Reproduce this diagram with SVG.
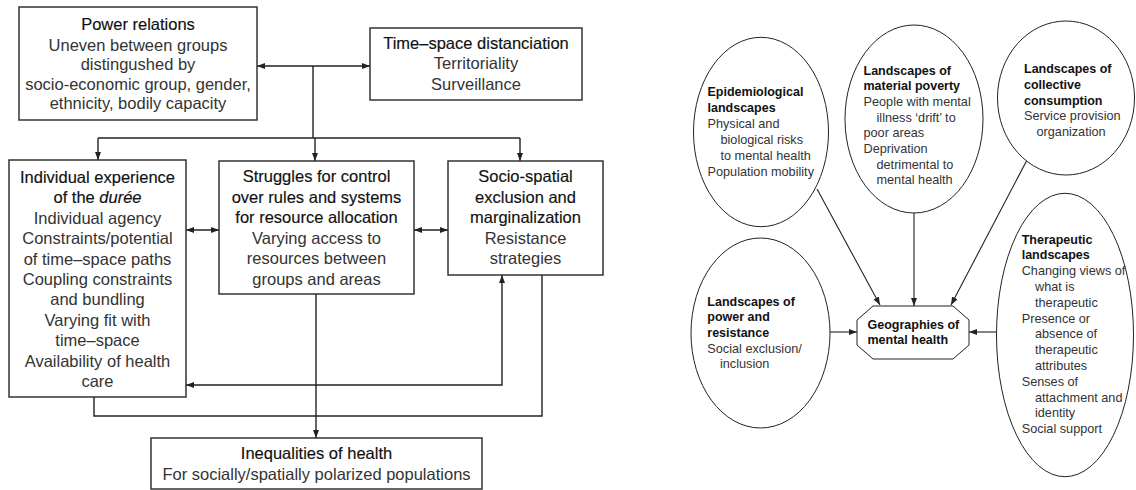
<svg xmlns="http://www.w3.org/2000/svg" width="1136" height="490" viewBox="0 0 1136 490">
<style>
.box{fill:#fff;stroke:#333;stroke-width:1.5}
.ell{fill:#fff;stroke:#222;stroke-width:1}
.ln{fill:none;stroke:#222;stroke-width:1.4}
.rl{fill:none;stroke:#222;stroke-width:1.1}
.lt{font-family:"Liberation Sans",Arial,sans-serif;font-size:16.5px;fill:#111;stroke:#111;stroke-width:0.15;text-anchor:middle}
.lb{font-family:"Liberation Sans",Arial,sans-serif;font-size:16.5px;fill:#333;text-anchor:middle}
.rt{font-family:"Liberation Sans",Arial,sans-serif;font-size:12.5px;font-weight:bold;fill:#111}
.rb{font-family:"Liberation Sans",Arial,sans-serif;font-size:12.7px;fill:#333}
</style>
<defs>
<marker id="ah" markerUnits="userSpaceOnUse" markerWidth="9" markerHeight="7" refX="8" refY="3" orient="auto-start-reverse">
<path d="M0,0 L8,3 L0,6 z" fill="#222"/>
</marker>
</defs>
<rect width="1136" height="490" fill="#fff"/>

<g id="connectors">
<path class="ln" d="M257,66 H370" marker-start="url(#ah)" marker-end="url(#ah)"/>
<path class="ln" d="M313,66 V138"/>
<path class="ln" d="M98,138 H520"/>
<path class="ln" d="M98,138 V160" marker-end="url(#ah)"/>
<path class="ln" d="M315,138 V161" marker-end="url(#ah)"/>
<path class="ln" d="M520,138 V161" marker-end="url(#ah)"/>
<path class="ln" d="M186,230 H219" marker-start="url(#ah)" marker-end="url(#ah)"/>
<path class="ln" d="M414,230 H448" marker-start="url(#ah)" marker-end="url(#ah)"/>
<path class="ln" d="M186,385 H502 V275" marker-start="url(#ah)" marker-end="url(#ah)"/>
<path class="ln" d="M94,397 V416 H542 V275"/>
<path class="ln" d="M316,294 V438" marker-end="url(#ah)"/>

<path class="rl" d="M817,189 L880,305" marker-end="url(#ah)"/>
<path class="rl" d="M914,213 V306" marker-end="url(#ah)"/>
<path class="rl" d="M1027,160 L951,305" marker-end="url(#ah)"/>
<path class="rl" d="M830,332 H857" marker-end="url(#ah)"/>
<path class="rl" d="M997,332 H969" marker-end="url(#ah)"/>
</g>

<g id="power-relations">
<rect class="box" x="19" y="7" width="238" height="113"/>
<text class="lt" x="138" y="30">Power relations</text>
<text class="lb" x="138" y="51">Uneven between groups</text>
<text class="lb" x="138" y="70">distingushed by</text>
<text class="lb" x="138" y="90">socio-economic group, gender,</text>
<text class="lb" x="138" y="109">ethnicity, bodily capacity</text>
</g>

<g id="time-space">
<rect class="box" x="370" y="28" width="212" height="72"/>
<text class="lt" x="476" y="49">Time–space distanciation</text>
<text class="lb" x="476" y="69">Territoriality</text>
<text class="lb" x="476" y="90">Surveillance</text>
</g>

<g id="individual">
<rect class="box" x="9" y="160" width="177" height="237"/>
<text class="lt" x="97.5" y="183">Individual experience</text>
<text class="lt" x="97.5" y="203.4">of the <tspan font-style="italic">durée</tspan></text>
<text class="lb" x="97.5" y="223.8">Individual agency</text>
<text class="lb" x="97.5" y="244.2">Constraints/potential</text>
<text class="lb" x="97.5" y="264.6">of time–space paths</text>
<text class="lb" x="97.5" y="285">Coupling constraints</text>
<text class="lb" x="97.5" y="305.4">and bundling</text>
<text class="lb" x="97.5" y="325.8">Varying fit with</text>
<text class="lb" x="97.5" y="346.2">time–space</text>
<text class="lb" x="97.5" y="366.6">Availability of health</text>
<text class="lb" x="97.5" y="387">care</text>
</g>

<g id="struggles">
<rect class="box" x="219" y="161" width="195" height="133"/>
<text class="lt" x="316.5" y="182">Struggles for control</text>
<text class="lt" x="316.5" y="202.6">over rules and systems</text>
<text class="lt" x="316.5" y="223.2">for resource allocation</text>
<text class="lb" x="316.5" y="243.8">Varying access to</text>
<text class="lb" x="316.5" y="264.4">resources between</text>
<text class="lb" x="316.5" y="285">groups and areas</text>
</g>

<g id="socio-spatial">
<rect class="box" x="448" y="161" width="155" height="114"/>
<text class="lt" x="525.5" y="182">Socio-spatial</text>
<text class="lt" x="525.5" y="202.6">exclusion and</text>
<text class="lt" x="525.5" y="223.2">marginalization</text>
<text class="lb" x="525.5" y="243.8">Resistance</text>
<text class="lb" x="525.5" y="264.4">strategies</text>
</g>

<g id="inequalities">
<rect class="box" x="151" y="438" width="331" height="51"/>
<text class="lt" x="316.5" y="459">Inequalities of health</text>
<text class="lb" x="316.5" y="480">For socially/spatially polarized populations</text>
</g>

<g id="epidemiological">
<ellipse class="ell" cx="761" cy="132" rx="67.5" ry="94.7"/>
<text class="rt" x="707.5" y="96">Epidemiological</text>
<text class="rt" x="707.5" y="112">landscapes</text>
<text class="rb" x="707.5" y="128">Physical and</text>
<text class="rb" x="720.5" y="144">biological risks</text>
<text class="rb" x="720.5" y="160">to mental health</text>
<text class="rb" x="707.5" y="176">Population mobility</text>
</g>

<g id="material-poverty">
<ellipse class="ell" cx="914" cy="119" rx="69" ry="94"/>
<text class="rt" x="863.5" y="74.5">Landscapes of</text>
<text class="rt" x="863.5" y="90.2">material poverty</text>
<text class="rb" x="863.5" y="105.9">People with mental</text>
<text class="rb" x="876.5" y="121.6">illness ‘drift’ to</text>
<text class="rb" x="863.5" y="137.3">poor areas</text>
<text class="rb" x="863.5" y="153">Deprivation</text>
<text class="rb" x="876.5" y="168.7">detrimental to</text>
<text class="rb" x="876.5" y="184.4">mental health</text>
</g>

<g id="collective-consumption">
<ellipse class="ell" cx="1066" cy="98" rx="68.5" ry="77"/>
<text class="rt" x="1024" y="73">Landscapes of</text>
<text class="rt" x="1024" y="88.8">collective</text>
<text class="rt" x="1024" y="104.6">consumption</text>
<text class="rb" x="1024" y="120.4">Service provision</text>
<text class="rb" x="1036.5" y="136.2">organization</text>
</g>

<g id="power-resistance">
<ellipse class="ell" cx="760.5" cy="333" rx="69.5" ry="95"/>
<text class="rt" x="707.3" y="305.5">Landscapes of</text>
<text class="rt" x="707.3" y="321.2">power and</text>
<text class="rt" x="707.3" y="336.9">resistance</text>
<text class="rb" x="707.3" y="352.6">Social exclusion/</text>
<text class="rb" x="720" y="368.3">inclusion</text>
</g>

<g id="therapeutic">
<ellipse class="ell" cx="1065" cy="335" rx="68.5" ry="141.7"/>
<text class="rt" x="1021.7" y="243.5">Therapeutic</text>
<text class="rt" x="1021.7" y="259.3">landscapes</text>
<text class="rb" x="1021.7" y="275.1">Changing views of</text>
<text class="rb" x="1035" y="290.9">what is</text>
<text class="rb" x="1035" y="306.7">therapeutic</text>
<text class="rb" x="1021.7" y="322.5">Presence or</text>
<text class="rb" x="1035" y="338.3">absence of</text>
<text class="rb" x="1035" y="354.1">therapeutic</text>
<text class="rb" x="1035" y="369.9">attributes</text>
<text class="rb" x="1021.7" y="385.7">Senses of</text>
<text class="rb" x="1035" y="401.5">attachment and</text>
<text class="rb" x="1035" y="417.3">identity</text>
<text class="rb" x="1021.7" y="433.1">Social support</text>
</g>

<g id="geographies">
<polygon class="ell" points="873,306 953,306 969,320 969,345 953,359 873,359 857,345 857,320"/>
<text class="rt" x="867.5" y="328.5">Geographies of</text>
<text class="rt" x="867.5" y="343.5">mental health</text>
</g>
</svg>
